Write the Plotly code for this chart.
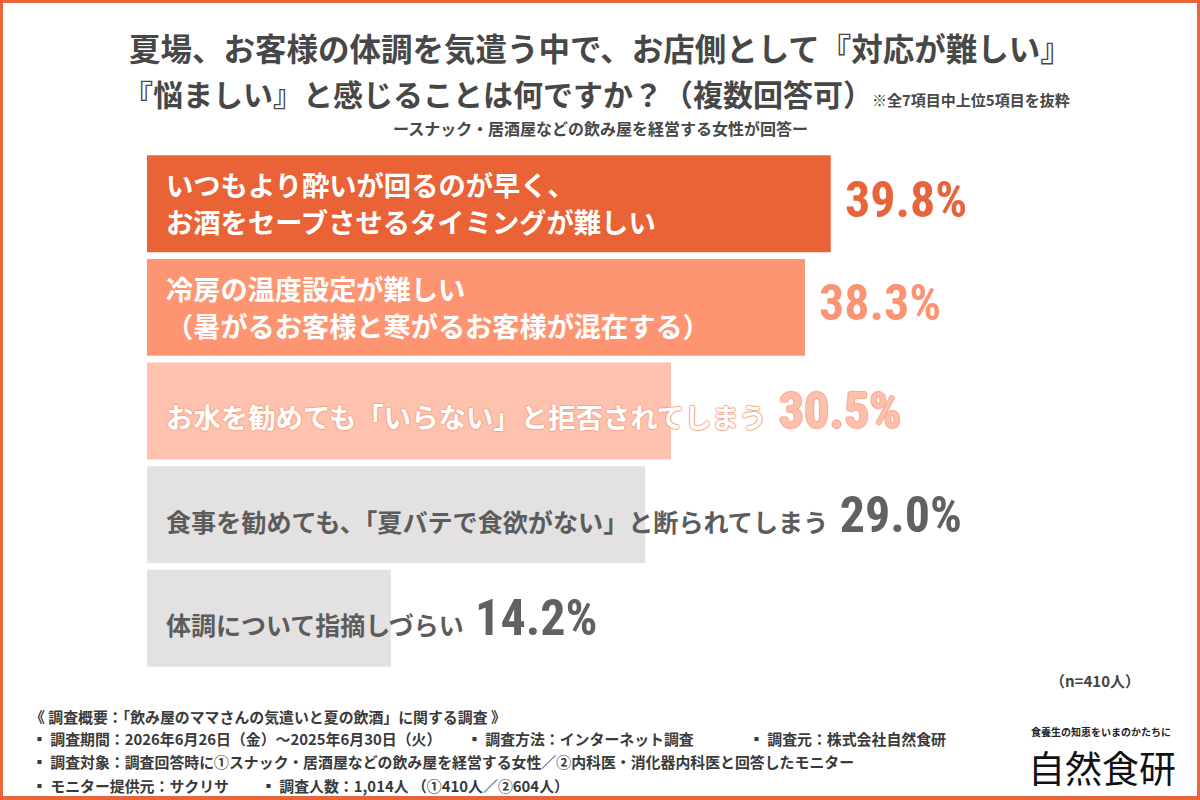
import plotly.graph_objects as go

# ---- data ----
labels = [
    "いつもより酔いが回るのが早く、<br>お酒をセーブさせるタイミングが難しい",
    "冷房の温度設定が難しい<br>（暑がるお客様と寒がるお客様が混在する）",
    "お水を勧めても「いらない」と拒否されてしまう",
    "食事を勧めても、「夏バテで食欲がない」と断られてしまう",
    "体調について指摘しづらい",
]
values = [39.8, 38.3, 30.5, 29.0, 14.2]
value_labels = ["39.8%", "38.3%", "30.5%", "29.0%", "14.2%"]

title_line1 = "夏場、お客様の体調を気遣う中で、お店側として『対応が難しい』"
title_line2 = "『悩ましい』と感じることは何ですか？（複数回答可）"
title_note = "※全7項目中上位5項目を抜粋"
subtitle = "ースナック・居酒屋などの飲み屋を経営する女性が回答ー"
n_note = "（n=410人）"
footer_lines = [
    [("《 調査概要：「飲み屋のママさんの気遣いと夏の飲酒」に関する調査 》", 28)],
    [("▪ 調査期間：2026年6月26日（金）～2025年6月30日（火）", 30),
     ("▪ 調査方法：インターネット調査", 465),
     ("▪ 調査元：株式会社自然食研", 747)],
    [("▪ 調査対象：調査回答時に①スナック・居酒屋などの飲み屋を経営する女性／②内科医・消化器内科医と回答したモニター", 30)],
    [("▪ モニター提供元：サクリサ", 30),
     ("▪ 調査人数：1,014人 （①410人／②604人）", 259)],
]
logo_tag = "食養生の知恵をいまのかたちに"
logo_name = "自然食研"

# ---- styles ----
bar_colors = ["#E96336", "#FD9573", "#FEC2AF", "#E3E1E2", "#E3E1E2"]
text_colors = ["#FFFFFF", "#FFFFFF", "#FFFFFF", "#5C5C5C", "#5C5C5C"]
text_sizes = [27.3, 27.2, 27.4, 25.1, 25.0]
SAL = "#F5A68B"
text_shadows = ["none", "none",
                f"1px 0px 1px {SAL}, -1px 0px 1px {SAL}, 0px 1px 1px {SAL}, 0px -1px 1px {SAL}",
                "none", "none"]
value_colors = ["#E8643A", "#FB9474", "#FDC0AC", "#616161", "#616161"]
label_inside = [True, True, False, False, False]
LINE_GAP = 37

JP = "Noto Sans CJK JP"
ORANGE = "#E8643A"

W, H = 1200, 800
ML, MR, MT, MB = 147, 53, 152, 130
PW, PH = W - ML - MR, H - MT - MB
PX_PER_UNIT = 17.18
xmax = PW / PX_PER_UNIT


def px(x):
    return (x - ML) / PW


def py(y):
    return (H - MB - y) / PH


def num_span(txt, color):
    return (f"<span style=\"font-family:'Roboto';font-stretch:condensed;font-size:50px;"
            f"color:{color};font-weight:bold\">{txt}</span>")


fig = go.Figure()
fig.add_trace(go.Bar(
    x=values, y=labels, orientation="h",
    marker=dict(color=bar_colors, line=dict(width=0)),
    hoverinfo="skip", showlegend=False,
))

annotations = []
for i, (lab, v, vl) in enumerate(zip(labels, values, value_labels)):
    font = dict(family=JP, size=text_sizes[i], color=text_colors[i], weight="bold",
                shadow=text_shadows[i])
    if label_inside[i]:
        lines = lab.split("<br>")
        n = len(lines)
        for j, ln in enumerate(lines):
            annotations.append(dict(
                x=0, y=lab, xref="x", yref="y", text=ln, showarrow=False,
                xanchor="left", yanchor="middle", xshift=17, align="left",
                yshift=((n - 1) / 2 - j) * LINE_GAP + 1, font=font,
            ))
        annotations.append(dict(
            x=v, y=lab, xref="x", yref="y", text=num_span(vl, value_colors[i]), showarrow=False,
            xanchor="left", yanchor="middle", xshift=12, yshift=4,
            font=dict(family=JP, size=26, color=value_colors[i], weight="bold"),
        ))
    else:
        annotations.append(dict(
            x=0, y=lab, xref="x", yref="y", text=lab + "  " + num_span(vl, value_colors[i]),
            showarrow=False, xanchor="left", yanchor="middle", xshift=17, align="left",
            font=font,
        ))

# titles and notes
annotations += [
    dict(x=px(600), y=py(47), xref="paper", yref="paper", text=title_line1, showarrow=False,
         xanchor="center", yanchor="middle",
         font=dict(family=JP, size=31.5, color="#474747", weight="bold")),
    dict(x=px(875), y=py(93), xref="paper", yref="paper", text=title_line2, showarrow=False,
         xanchor="right", yanchor="middle",
         font=dict(family=JP, size=30, color="#474747", weight="bold")),
    dict(x=px(870), y=py(100), xref="paper", yref="paper", text=title_note, showarrow=False,
         xanchor="left", yanchor="middle",
         font=dict(family=JP, size=15, color="#474747", weight="bold")),
    dict(x=px(600), y=py(128), xref="paper", yref="paper", text=subtitle, showarrow=False,
         xanchor="center", yanchor="middle",
         font=dict(family=JP, size=16, color="#474747", weight="bold")),
    dict(x=px(1142), y=py(680), xref="paper", yref="paper", text=n_note, showarrow=False,
         xanchor="right", yanchor="middle",
         font=dict(family=JP, size=15, color="#444444", weight="bold")),
    dict(x=px(1029), y=py(731), xref="paper", yref="paper", text=logo_tag, showarrow=False,
         xanchor="left", yanchor="middle",
         font=dict(family=JP, size=10, color="#222222", weight="bold")),
    dict(x=px(1026), y=py(767), xref="paper", yref="paper", text=logo_name, showarrow=False,
         xanchor="left", yanchor="middle",
         font=dict(family=JP, size=37, color="#111111")),
]

footer_y = [716, 738, 761, 785]
for row, yy in zip(footer_lines, footer_y):
    for txt, xx in row:
        annotations.append(dict(
            x=px(xx), y=py(yy), xref="paper", yref="paper", text=txt, showarrow=False,
            xanchor="left", yanchor="middle",
            font=dict(family=JP, size=14.9, color="#3A3A3A", weight="bold"),
        ))

shapes = [dict(type="rect", xref="paper", yref="paper", layer="below",
               x0=px(3), x1=px(W - 3), y0=py(H - 4), y1=py(3),
               fillcolor="#FFFFFF", line=dict(width=0))]

fig.update_layout(
    width=W, height=H,
    margin=dict(l=ML, r=MR, t=MT, b=MB, pad=0),
    paper_bgcolor=ORANGE, plot_bgcolor="rgba(0,0,0,0)",
    bargap=0.065,
    xaxis=dict(range=[0, xmax], visible=False, fixedrange=True),
    yaxis=dict(autorange="reversed", visible=False, fixedrange=True),
    annotations=annotations, shapes=shapes,
    font=dict(family=JP),
)

fig.write_html("out.html", config={"displayModeBar": False})
